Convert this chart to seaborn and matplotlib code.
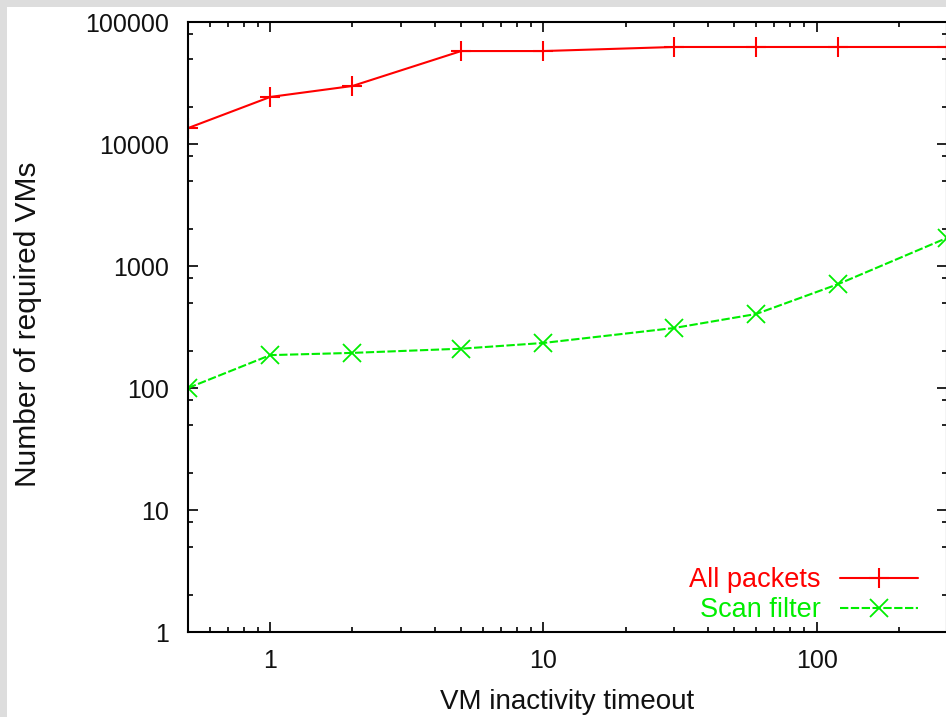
import pandas as pd
import seaborn as sns
import matplotlib.pyplot as plt
from matplotlib.patches import Rectangle
from matplotlib.ticker import LogLocator, FuncFormatter, NullFormatter

# --- DATA ---
timeouts = [0.5, 1, 2, 5, 10, 30, 60, 120, 300]
all_packets = [13500, 24300, 29900, 57800, 57800, 62400, 62400, 62400, 62400]
scan_filter = [100, 186, 194, 210, 234, 310, 404, 711, 1700]

sns.set_theme(style="ticks")
plt.rcParams["font.family"] = ["Liberation Sans", "DejaVu Sans"]
FS = 18
LFS = 20

fig = plt.figure(figsize=(9.46, 7.17), dpi=100, facecolor="#dddddd")
# white page inside the grey frame
fig.patches.append(Rectangle((7 / 946, 0), 1, 1 - 7 / 717, transform=fig.transFigure,
                             facecolor="white", edgecolor="none", zorder=-10))
ax = fig.add_axes([188 / 946, (717 - 632) / 717, (947 - 188) / 946, (632 - 22) / 717])
ax.set_facecolor("white")

red, green = "#ff0000", "#00ee00"
sns.lineplot(x=timeouts, y=all_packets, color=red, marker="+", markersize=14,
             markeredgecolor=red, markeredgewidth=1.5, linewidth=1.5,
             label="All packets", ax=ax)
sns.lineplot(x=timeouts, y=scan_filter, color=green, marker="x", markersize=13,
             markeredgecolor=green, markeredgewidth=1.3, linewidth=1.5,
             linestyle=(0, (4, 1.2)), label="Scan filter", ax=ax)

ax.set_xscale("log")
ax.set_yscale("log")
ax.set_xlim(0.5, 300)
ax.set_ylim(1, 100000)

ax.xaxis.set_major_locator(LogLocator(base=10, numticks=10))
ax.xaxis.set_minor_locator(LogLocator(base=10, subs=range(2, 10), numticks=20))
ax.yaxis.set_major_locator(LogLocator(base=10, numticks=10))
ax.yaxis.set_minor_locator(LogLocator(base=10, subs=(2, 5, 8), numticks=20))
ax.xaxis.set_major_formatter(FuncFormatter(lambda v, p: f"{v:g}"))
ax.yaxis.set_major_formatter(FuncFormatter(lambda v, p: f"{int(v)}"))
ax.xaxis.set_minor_formatter(NullFormatter())
ax.yaxis.set_minor_formatter(NullFormatter())

ax.tick_params(which="both", direction="in", top=True, right=True, colors="black",
               labelsize=FS, labelcolor="#111111")
ax.tick_params(which="major", length=7, width=1.2)
ax.tick_params(which="minor", length=3.5, width=1.2)
ax.tick_params(axis="x", which="major", pad=12)
ax.tick_params(axis="y", which="major", pad=14)
for s in ax.spines.values():
    s.set_linewidth(1.5)
    s.set_color("black")

ax.set_xlabel("VM inactivity timeout", fontsize=LFS, color="#111111", labelpad=12)
ax.set_ylabel("Number of required VMs", fontsize=21.5, color="#111111")
ax.yaxis.set_label_coords(-0.192, 0.505)

leg = ax.legend(loc="lower right", frameon=False, fontsize=19.5, markerfirst=False,
                labelcolor="linecolor", handlelength=2.9, handletextpad=0.7,
                borderaxespad=0.3, labelspacing=0.15, alignment="right",
                bbox_to_anchor=(0.987, -0.017))
for t in leg.get_texts():
    t.set_ha("right")

fig.savefig("out.png", dpi=100, facecolor=fig.get_facecolor())
